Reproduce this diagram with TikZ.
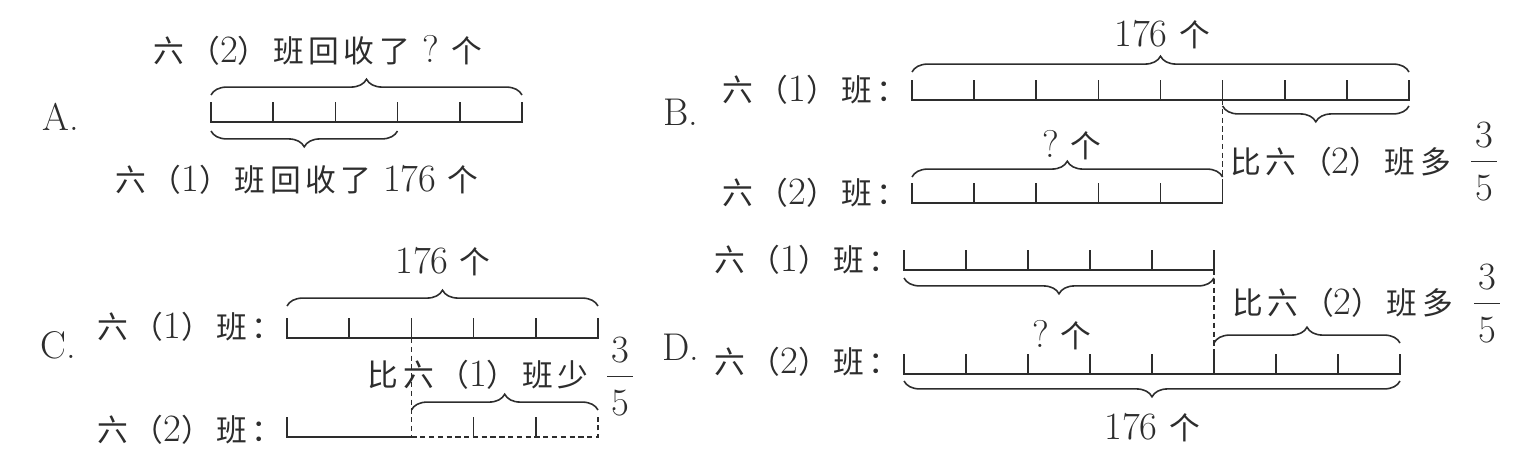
\documentclass[tikz,border=0pt]{standalone}
\usepackage{fontspec}
\usepackage{tikz}
\usetikzlibrary{decorations.pathreplacing, calc}
\newfontfamily\cjk[LetterSpace=15]{Noto Sans CJK SC}
\newcommand\dg[1]{{\rmfamily\fontsize{22}{24}\selectfont #1}}
\definecolor{inkgray}{RGB}{45,45,45}

\begin{document}
\begin{tikzpicture}[
        x=0.02cm, y=-0.02cm,
        txt/.style={font=\cjk\fontsize{17.5}{20}\selectfont, text=inkgray, inner sep=0pt},
        opt/.style={font=\fontsize{22}{24}\selectfont, text=inkgray, inner sep=0pt},
        bar/.style={line width=0.9pt, draw=inkgray},
        dashline/.style={bar, line width=0.6pt, dash pattern=on 3pt off 2pt},
        brc/.style={bar, decorate, decoration={brace, amplitude=9pt}}
      ]
        \useasboundingbox (0,0) rectangle (1528,457);

        % A
        \node[opt] (labA) at (61,117) {A.};
        \coordinate (a0) at (211,122);
        \draw[bar] (211,102) -- (a0) -- (522,122) -- (522,102);
        \foreach \i in {1,...,4} \draw[bar] (211+62.2*\i,122) -- ++(0,-20);
        \draw[brc] (211,95) -- (522,95);
        \draw[brc] (397.5,131) -- (211,131);
        \node[txt] (topA) at (318,50) {六（\dg{2}）班回收了\hspace{7pt}\dg{?}\hspace{7pt}个};
        \node[txt] (botA) at (297,180) {六（\dg{1}）班回收了\ \dg{176}\ 个};

        % B
        \node[opt] (labB) at (681,112) {B.};
        \node[txt, anchor=east] (rowB1) at (908,90) {六（\dg{1}）班：};
        \node[txt, anchor=east] (rowB2) at (908,193) {六（\dg{2}）班：};
        \coordinate (b1) at (912,100);
        \coordinate (b2) at (912,203);
        \coordinate (bsplit) at (1222.6,100);
        \draw[bar] (912,80) -- (b1) -- (1409,100) -- (1409,80);
        \foreach \i in {1,...,7} \draw[bar] (912+62.125*\i,100) -- ++(0,-20);
        \draw[bar] (912,183) -- (b2) -- (1222.6,203) -- (1222.6,183);
        \foreach \i in {1,...,4} \draw[bar] (912+62.125*\i,203) -- ++(0,-20);
        \draw[dashline] (bsplit) -- (1222.6,203);
        \draw[brc] (912,72) -- (1409,72);
        \draw[brc] (1409,106) -- (1222.6,106);
        \draw[brc] (912,177) -- (1222.6,177);
        \node[txt] (totB) at (1162,35) {\dg{176}\ 个};
        \node[txt] (askB) at (1072,145) {\dg{?}\ 个};
        \node[txt, anchor=west] (cmpB) at (1230,162) {比六（\dg{2}）班多};
        \node[opt] (fB3) at (1484,135) {3};
        \node[opt] (fB5) at (1484,188) {5};
        \draw[bar] ($(fB3)!0.5!(fB5)$) ++(-13,0) -- ++(26,0);

        % C
        \node[opt] (labC) at (58,345) {C.};
        \node[txt, anchor=east] (rowC1) at (283,327) {六（\dg{1}）班：};
        \node[txt, anchor=east] (rowC2) at (283,430) {六（\dg{2}）班：};
        \coordinate (c1) at (287,338);
        \coordinate (c2) at (287,437);
        \coordinate (csplit) at (411.4,338);
        \draw[bar] (287,318) -- (c1) -- (598,338) -- (598,318);
        \foreach \i in {1,...,4} \draw[bar] (287+62.2*\i,338) -- ++(0,-20);
        \draw[bar] (287,417) -- (c2) -- (411.4,437);
        \draw[dashline] (411.4,437) -- (598,437) -- (598,417);
        \foreach \i in {3,4} \draw[bar] (287+62.2*\i,437) -- ++(0,-20);
        \draw[dashline] (csplit) -- (411.4,437);
        \draw[brc] (287,306) -- (598,306);
        \draw[brc] (411.4,410) -- (598,410);
        \node[txt] (totC) at (443,262) {\dg{176}\ 个};
        \node[txt] (cmpC) at (478,375) {比六（\dg{1}）班少};
        \node[opt] (fC3) at (620,350) {3};
        \node[opt] (fC5) at (620,403) {5};
        \draw[bar] ($(fC3)!0.5!(fC5)$) ++(-13,0) -- ++(26,0);

        % D
        \node[opt] (labD) at (681,347) {D.};
        \node[txt, anchor=east] (rowD1) at (900,260) {六（\dg{1}）班：};
        \node[txt, anchor=east] (rowD2) at (900,362) {六（\dg{2}）班：};
        \coordinate (d1) at (904,270);
        \coordinate (d2) at (904,374);
        \coordinate (dsplit) at (1214,270);
        \draw[bar] (904,250) -- (d1) -- (1214,270) -- (1214,250);
        \foreach \i in {1,...,4} \draw[bar] (904+62*\i,270) -- ++(0,-20);
        \draw[bar] (904,354) -- (d2) -- (1400,374) -- (1400,354);
        \foreach \i in {1,...,7} \draw[bar] (904+62*\i,374) -- ++(0,-20);
        \draw[dashline] (dsplit) -- (1214,374);
        \draw[brc] (1214,278) -- (904,278);
        \draw[brc] (1214,343) -- (1400,343);
        \draw[brc] (1400,381) -- (904,381);
        \node[txt] (askD) at (1062,335) {\dg{?}\ 个};
        \node[txt, anchor=west] (cmpD) at (1232,303) {比六（\dg{2}）班多};
        \node[opt] (fD3) at (1487,277) {3};
        \node[opt] (fD5) at (1487,330) {5};
        \draw[bar] ($(fD3)!0.5!(fD5)$) ++(-13,0) -- ++(26,0);
        \node[txt] (totD) at (1152,428) {\dg{176}\ 个};
      \end{tikzpicture}
\end{document}
